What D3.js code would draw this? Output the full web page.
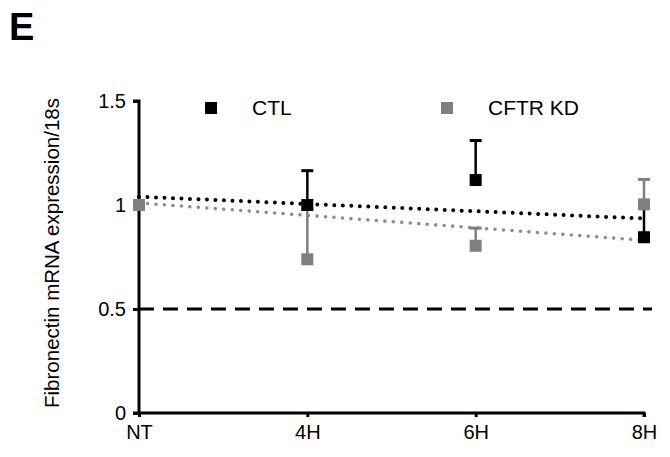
<!DOCTYPE html>
<html><head><meta charset="utf-8">
<script src="https://cdn.jsdelivr.net/npm/d3@7"></script>
<style>body{margin:0;background:#fff}svg{display:block;font-family:"Liberation Sans",Arial,sans-serif}</style>
</head><body><svg id="c" width="670" height="457"></svg>
<script>
const categories = ["NT","4H","6H","8H"];
const ctlValues = [1.0, 1.0, 1.12, 0.845];
const ctlErrors = [0, 0.165, 0.19, 0.14];
const kdValues = [1.0, 0.739, 0.804, 1.003];
const kdErrors = [0, 0.24, 0.085, 0.12];
const ctlTrend = [1.04, 0.935];
const kdTrend = [1.01, 0.83];
const refLine = 0.5;
const yTicks = [0, 0.5, 1, 1.5];
const yTickLabels = ["0", "0.5", "1", "1.5"];
const seriesNames = ["CTL", "CFTR KD"];

const svg = d3.select("#c");
const x = d3.scalePoint().domain(categories).range([139, 644]);
const y = d3.scaleLinear().domain([0, 1.5]).range([413, 101]);

svg.append("text").attr("x", 9).attr("y", 40).attr("font-size", 38).attr("font-weight", "bold")
  .attr("font-family", "'Liberation Sans',Arial,sans-serif").text("E");

// axes
const yAxis = svg.append("g").attr("transform", "translate(139,0)")
  .call(d3.axisLeft(y).tickValues(yTicks).tickFormat((d,i)=>yTickLabels[i]).tickSize(6).tickPadding(7));
const xAxis = svg.append("g").attr("transform", "translate(0,413)")
  .call(d3.axisBottom(x).tickSize(4).tickPadding(8));
[yAxis, xAxis].forEach(g => {
  g.select(".domain").attr("stroke", "#000").attr("stroke-width", 3);
  g.selectAll(".tick line").attr("stroke", "#000").attr("stroke-width", 3);
  g.selectAll(".tick text").attr("font-size", 20).attr("fill", "#000")
    .attr("font-family", "'Liberation Sans',Arial,sans-serif");
});
yAxis.select(".domain").attr("d", `M-6,${y(1.5)}H0V${y(0)}H-6`);
xAxis.select(".domain").attr("d", `M${x("NT")},0H${x("8H")}V4`);

svg.append("text").attr("transform", `translate(59,253) rotate(-90)`).attr("text-anchor", "middle")
  .attr("font-size", 20.5).text("Fibronectin mRNA expression/18s");

// reference dashed line
svg.append("line").attr("x1", x("NT")).attr("x2", 652).attr("y1", y(refLine)).attr("y2", y(refLine))
  .attr("stroke", "#000").attr("stroke-width", 3).attr("stroke-dasharray", "15,9");

// trend lines
const xs = [x("NT"), x("8H")];
svg.append("line").attr("x1", xs[0]).attr("x2", xs[1]).attr("y1", y(kdTrend[0])).attr("y2", y(kdTrend[1]))
  .attr("stroke", "#8c8c8c").attr("stroke-width", 3.6).attr("stroke-linecap", "round").attr("stroke-dasharray", "0,8.5");
svg.append("line").attr("x1", xs[0]).attr("x2", xs[1]).attr("y1", y(ctlTrend[0])).attr("y2", y(ctlTrend[1]))
  .attr("stroke", "#000").attr("stroke-width", 4).attr("stroke-linecap", "round").attr("stroke-dasharray", "0,8.5");

// error bars
function errBars(vals, errs, color) {
  const g = svg.append("g");
  categories.forEach((c, i) => {
    if (!errs[i]) return;
    g.append("line").attr("x1", x(c)).attr("x2", x(c)).attr("y1", y(vals[i])).attr("y2", y(vals[i] + errs[i]))
      .attr("stroke", color).attr("stroke-width", 2.5);
    g.append("line").attr("x1", x(c) - 6).attr("x2", x(c) + 6).attr("y1", y(vals[i] + errs[i])).attr("y2", y(vals[i] + errs[i]))
      .attr("stroke", color).attr("stroke-width", 3);
  });
}
errBars(ctlValues, ctlErrors, "#000");
errBars(kdValues, kdErrors, "#808080");

function markers(vals, color) {
  svg.append("g").selectAll("rect").data(vals).join("rect")
    .attr("x", (d, i) => x(categories[i]) - 6).attr("y", d => y(d) - 6)
    .attr("width", 12).attr("height", 12).attr("fill", color);
}
markers(ctlValues, "#000");
markers(kdValues, "#808080");

// legend
const legend = [{name: seriesNames[0], color: "#000", sx: 211, tx: 252}, {name: seriesNames[1], color: "#808080", sx: 447, tx: 488}];
legend.forEach(l => {
  svg.append("rect").attr("x", l.sx - 6).attr("y", 102).attr("width", 12).attr("height", 12).attr("fill", l.color);
  svg.append("text").attr("x", l.tx).attr("y", 115).attr("font-size", 21).text(l.name);
});
</script></body></html>
